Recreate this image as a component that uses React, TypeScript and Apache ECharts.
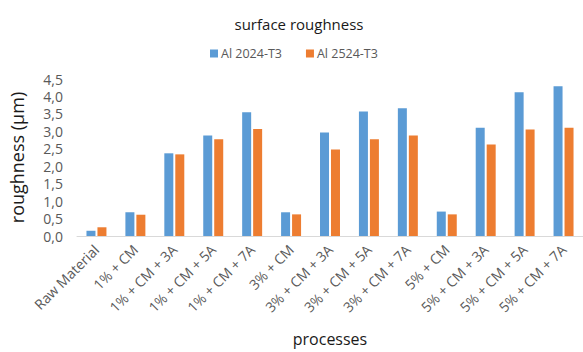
import React, { useEffect, useRef } from "react";
import * as echarts from "echarts";

const categories = [
  "Raw Material",
  "1% + CM",
  "1% + CM + 3A",
  "1% + CM + 5A",
  "1% + CM + 7A",
  "3% + CM",
  "3% + CM + 3A",
  "3% + CM + 5A",
  "3% + CM + 7A",
  "5% + CM",
  "5% + CM + 3A",
  "5% + CM + 5A",
  "5% + CM + 7A",
];
const al2024 = [0.15, 0.68, 2.37, 2.88, 3.55, 0.68, 2.97, 3.57, 3.66, 0.7, 3.1, 4.12, 4.29];
const al2524 = [0.25, 0.61, 2.34, 2.77, 3.07, 0.62, 2.48, 2.77, 2.88, 0.62, 2.62, 3.05, 3.1];
const seriesNames = ["Al 2024-T3", "Al 2524-T3"];

const FONT = "'Open Sans', sans-serif";

export default function App() {
  const ref = useRef<HTMLDivElement>(null);
  useEffect(() => {
    if (!ref.current) return;
    const chart = echarts.init(ref.current, null, { renderer: "svg" });
    chart.setOption({
      animation: false,
      backgroundColor: "#ffffff",
      title: {
        text: "surface roughness",
        left: 294,
        textAlign: "center",
        top: 11,
        textStyle: { fontFamily: FONT, fontSize: 15, fontWeight: "normal", color: "#1a1a1a" },
      },
      legend: {
        data: seriesNames,
        top: 42,
        left: 205,
        itemWidth: 8,
        itemHeight: 8,
        itemGap: 24,
        icon: "rect",
        textStyle: { fontFamily: FONT, fontSize: 12.5, color: "#595959", padding: [0, 0, 0, -2] },
      },
      grid: { left: 72, top: 79, width: 513, height: 157 },
      xAxis: {
        type: "category",
        data: categories,
        name: "processes",
        nameLocation: "middle",
        nameGap: 95,
        nameTextStyle: { fontFamily: FONT, fontSize: 16, color: "#1a1a1a" },
        axisLine: { lineStyle: { color: "#d9d9d9", width: 1 } },
        axisTick: { show: false },
        axisLabel: {
          interval: 0,
          rotate: 45,
          fontFamily: FONT,
          fontSize: 14,
          color: "#595959",
          margin: 11,
        },
      },
      yAxis: {
        type: "value",
        min: 0,
        max: 4.5,
        interval: 0.5,
        name: "roughness (µm)",
        nameLocation: "middle",
        nameRotate: 90,
        nameGap: 51,
        nameTextStyle: { fontFamily: FONT, fontSize: 18, color: "#1a1a1a" },
        axisLine: { show: false },
        axisTick: { show: false },
        splitLine: { show: false },
        axisLabel: {
          fontFamily: FONT,
          fontSize: 14,
          color: "#595959",
          margin: 14,
          formatter: (v: number) => v.toFixed(1).replace(".", ","),
        },
      },
      series: [
        {
          name: seriesNames[0],
          type: "bar",
          data: al2024,
          barWidth: 9,
          barGap: "22%",
          itemStyle: { color: "#5b9bd5" },
        },
        {
          name: seriesNames[1],
          type: "bar",
          data: al2524,
          barWidth: 9,
          itemStyle: { color: "#ed7d31" },
        },
      ],
    });
    return () => chart.dispose();
  }, []);
  return (
    <div
      ref={ref}
      style={{ position: "fixed", left: 0, top: 0, width: 583, height: 352 }}
    />
  );
}
